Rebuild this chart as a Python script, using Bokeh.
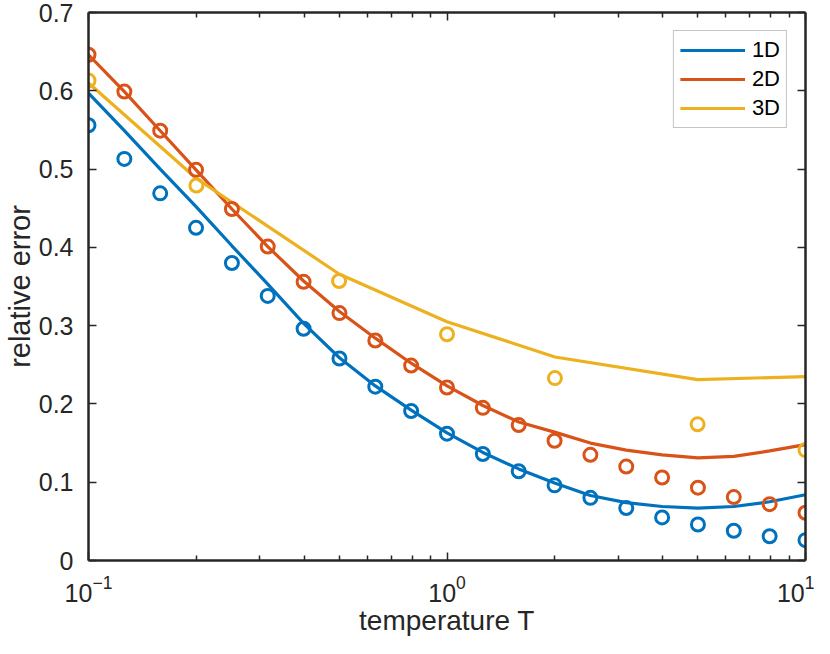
from bokeh.plotting import figure
from bokeh.models import LogAxis, LinearAxis, Legend, LegendItem, Range1d, FixedTicker, LogTickFormatter
from bokeh.embed import file_html
from bokeh.resources import INLINE

# ---- data ----
T_fine = [0.1, 0.1259, 0.1585, 0.1995, 0.2512, 0.3162, 0.3981, 0.5012, 0.631, 0.7943,
          1.0, 1.2589, 1.5849, 1.9953, 2.5119, 3.1623, 3.9811, 5.0119, 6.3096, 7.9433, 10.0]
err1d_pts = [0.556, 0.513, 0.469, 0.425, 0.380, 0.338, 0.296, 0.258, 0.222, 0.191,
             0.162, 0.136, 0.114, 0.096, 0.080, 0.067, 0.055, 0.046, 0.038, 0.031, 0.026]
err1d_line = [0.597, 0.549, 0.500, 0.452, 0.402, 0.353, 0.303, 0.259, 0.223, 0.192,
              0.163, 0.138, 0.117, 0.099, 0.083, 0.074, 0.069, 0.067, 0.069, 0.075, 0.084]
err2d_pts = [0.646, 0.599, 0.549, 0.499, 0.449, 0.401, 0.356, 0.316, 0.281, 0.249,
             0.221, 0.195, 0.173, 0.153, 0.135, 0.120, 0.106, 0.093, 0.081, 0.072, 0.061]
err2d_line = [0.646, 0.599, 0.549, 0.499, 0.449, 0.401, 0.357, 0.318, 0.284, 0.252,
              0.223, 0.198, 0.177, 0.164, 0.150, 0.141, 0.135, 0.131, 0.133, 0.140, 0.148]
T_coarse = [0.1, 0.2, 0.5, 1.0, 2.0, 5.0, 10.0]
err3d_pts = [0.613, 0.479, 0.357, 0.289, 0.233, 0.174, 0.141]
err3d_line = [0.610, 0.488, 0.366, 0.305, 0.260, 0.231, 0.235]

series_labels = ["1D", "2D", "3D"]
colors = ["#0072BD", "#D95319", "#EDB120"]
y_ticks = [0, 0.1, 0.2, 0.3, 0.4, 0.5, 0.6, 0.7]
x_major = [0.1, 1.0, 10.0]
x_minor = [0.2, 0.3, 0.4, 0.5, 0.6, 0.7, 0.8, 0.9, 2, 3, 4, 5, 6, 7, 8, 9]
x_title = "temperature T"
y_title = "relative error"

AX = "#262626"
FONT = "Liberation Sans"

p = figure(width=814, height=638, x_axis_type="log",
           x_range=Range1d(0.1, 10), y_range=Range1d(0, 0.7),
           output_backend="svg", toolbar_location=None,
           min_border_left=80, min_border_right=9, min_border_top=12, min_border_bottom=78)
p.outline_line_color = None
p.grid.visible = False
p.background_fill_color = "white"

# lines
r1 = p.line(T_fine, err1d_line, line_color=colors[0], line_width=3.2)
r2 = p.line(T_fine, err2d_line, line_color=colors[1], line_width=3.2)
r3 = p.line(T_coarse, err3d_line, line_color=colors[2], line_width=3.2)
# markers
for xs, ys, c in [(T_fine, err1d_pts, colors[0]), (T_fine, err2d_pts, colors[1]),
                  (T_coarse, err3d_pts, colors[2])]:
    p.scatter(xs, ys, marker="circle", size=13, fill_color=None, line_color=c, line_width=3)

def style(ax):
    ax.axis_line_color = AX
    ax.axis_line_width = 2.5
    ax.major_tick_line_color = AX
    ax.minor_tick_line_color = AX
    ax.major_tick_line_width = 1.5
    ax.minor_tick_line_width = 1.5
    ax.major_tick_in = 8
    ax.major_tick_out = 0
    ax.minor_tick_in = 5
    ax.minor_tick_out = 0
    ax.major_label_text_font = FONT
    ax.major_label_text_font_size = "25px"
    ax.major_label_text_color = AX
    ax.axis_label_text_font = FONT
    ax.axis_label_text_font_size = "29px"
    ax.axis_label_text_font_style = "normal"
    ax.axis_label_text_color = AX

xa = p.xaxis[0]
style(xa)
xa.ticker = FixedTicker(ticks=x_major, minor_ticks=x_minor)
xa.formatter = LogTickFormatter()
xa.major_label_standoff = 14
xa.axis_label = x_title
xa.axis_label_text_font_size = "28px"
xa.axis_label_standoff = 0

ya = p.yaxis[0]
style(ya)
ya.ticker = FixedTicker(ticks=y_ticks)
ya.major_label_overrides = {0: "0"}
ya.minor_tick_in = 0
ya.axis_label = y_title
ya.major_label_standoff = 15
ya.axis_label_standoff = 0

top = LogAxis(ticker=FixedTicker(ticks=x_major, minor_ticks=x_minor))
style(top)
top.major_label_overrides = {t: "" for t in x_major}
top.major_label_standoff = 0
p.add_layout(top, "above")

right = LinearAxis(ticker=FixedTicker(ticks=y_ticks))
style(right)
right.minor_tick_in = 0
right.major_label_overrides = {t: "" for t in y_ticks}
right.major_label_standoff = 0
p.add_layout(right, "right")

legend = Legend(items=[LegendItem(label=series_labels[0], renderers=[r1]),
                       LegendItem(label=series_labels[1], renderers=[r2]),
                       LegendItem(label=series_labels[2], renderers=[r3])],
                location="top_right")
legend.margin = 18
legend.padding = 6
legend.spacing = 3
legend.glyph_width = 65
legend.glyph_height = 24
legend.label_height = 24
legend.label_standoff = 7
legend.label_text_font = FONT
legend.label_text_font_size = "22px"
legend.label_text_color = "black"
legend.border_line_color = "#8a8a8a"
legend.border_line_width = 1.2
legend.background_fill_alpha = 1
p.add_layout(legend, "center")

open("out.html", "w").write(file_html(p, INLINE))
